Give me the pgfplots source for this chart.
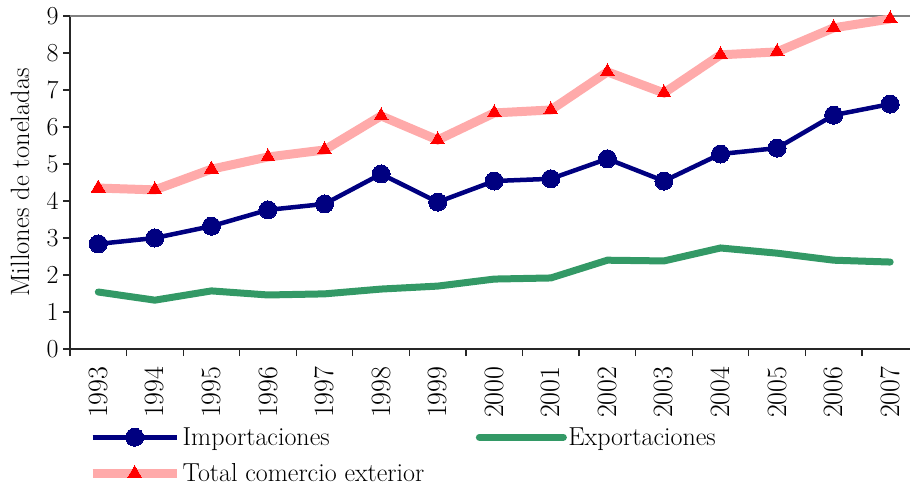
\documentclass[border=0pt]{standalone}
\usepackage{fontspec}
\usepackage{pgfplots}
\pgfplotsset{compat=1.18}
\definecolor{imp}{RGB}{0,0,128}
\definecolor{expc}{RGB}{51,153,102}
\definecolor{tot}{RGB}{255,170,170}
\begin{document}
\begin{tikzpicture}
\begin{axis}[
 at={(70pt,138pt)}, anchor=south west,
 scale only axis, width=840pt, height=333pt,
 xmin=-0.5, xmax=14.35, ymin=0, ymax=9,
 axis x line*=bottom, axis y line*=left,
 axis line style={line width=1.5pt, black!85},
 tick style={line width=1.2pt, black!85},
 tick align=outside, major tick length=7pt,
 xtick={-0.5,0.5,...,13.5}, xticklabels={},
 extra x ticks={0,1,2,3,4,5,6,7,8,9,10,11,12,13,14},
 extra x tick labels={1993,1994,1995,1996,1997,1998,1999,2000,2001,2002,2003,2004,2005,2006,2007},
 extra x tick style={major tick length=0pt},
 x tick label style={rotate=90, anchor=east, font=\fontsize{28}{30}\selectfont},
 xticklabel shift=14pt,
 ytick={0,1,2,3,4,5,6,7,8,9},
 yticklabels={0,1,2,3,4,5,6,7,8,9},
 extra y ticks={9}, extra y tick labels={},
 extra y tick style={grid=major, major grid style={gray, line width=2pt}, major tick length=0pt},
 yticklabel shift=1pt,
 y tick label style={font=\fontsize{26}{28}\selectfont},
 ylabel={Millones de toneladas},
 ylabel style={at={(axis description cs:-0.0595,0.50)}, anchor=center, font=\fontsize{26.5}{28}\selectfont},
 legend columns=2,
 legend cell align=left,
 legend style={draw=none, fill=none, inner sep=0pt,
   at={(axis description cs:0.0214,-0.231)}, anchor=north west,
   font=\fontsize{26}{28}\selectfont,
   nodes={inner sep=1.5pt},
   /tikz/column 2/.style={column sep=50pt},
   row sep=14pt},
 legend image code/.code={\draw[mark repeat=2,mark phase=2,#1] plot coordinates {(0pt,0pt)(42pt,0pt)(84pt,0pt)};},
]
\addplot[imp, line width=4.5pt, mark=*, mark size=9pt, mark options={solid, fill=imp, draw=imp, line width=0pt}] coordinates {
(0,2.84) (1,3.00) (2,3.32) (3,3.76) (4,3.92) (5,4.73) (6,3.97) (7,4.54) (8,4.60) (9,5.14) (10,4.54) (11,5.27) (12,5.43) (13,6.32) (14,6.62)};
\addlegendentry{Importaciones}
\addplot[expc, line width=7pt, line cap=round, no marks] coordinates {
(0,1.54) (1,1.32) (2,1.57) (3,1.46) (4,1.49) (5,1.62) (6,1.70) (7,1.89) (8,1.92) (9,2.40) (10,2.38) (11,2.73) (12,2.59) (13,2.40) (14,2.35)};
\addlegendentry{Exportaciones}
\addplot[tot, line width=9pt, mark=triangle*, mark size=8pt, mark options={solid, fill=red, draw=red, line width=0pt}] coordinates {
(0,4.35) (1,4.30) (2,4.86) (3,5.19) (4,5.38) (5,6.30) (6,5.65) (7,6.38) (8,6.46) (9,7.49) (10,6.92) (11,7.95) (12,8.03) (13,8.68) (14,8.92)};
\addlegendentry{Total comercio exterior}
\end{axis}
\pgfresetboundingbox
\path (0pt,0pt) rectangle (910pt,487pt);
\end{tikzpicture}
\end{document}
